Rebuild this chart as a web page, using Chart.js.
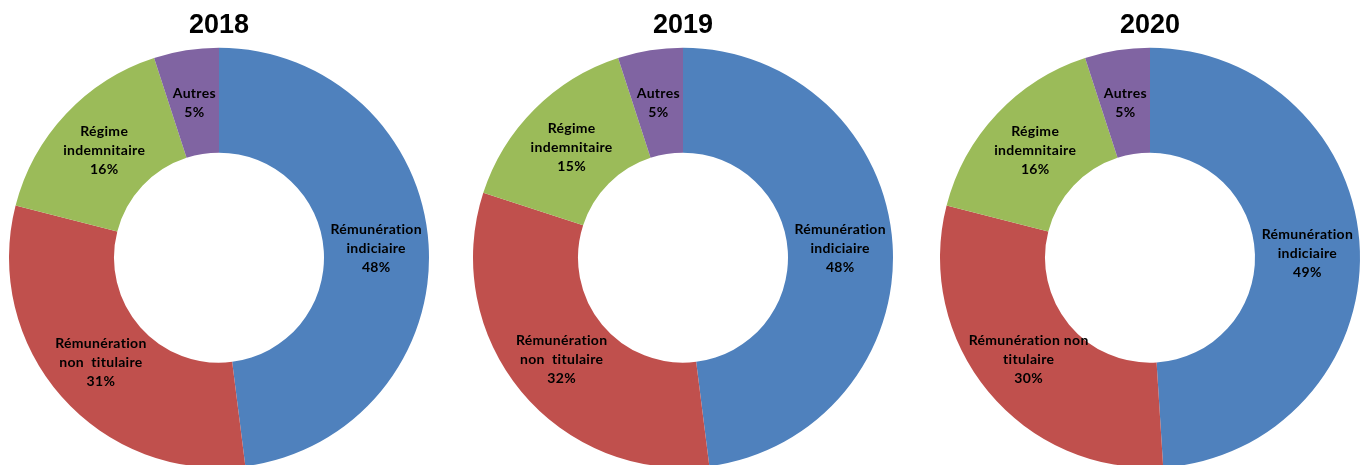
<!DOCTYPE html>
<html>
<head>
<meta charset="utf-8">
<script src="https://cdn.jsdelivr.net/npm/chart.js@4.4.0/dist/chart.umd.min.js"></script>
<style>
  html, body { margin: 0; padding: 0; background: #fff; overflow: hidden; }
  body { width: 1360px; height: 465px; position: relative; }
  .pie { position: absolute; top: 0; width: 440px; height: 474px; }
</style>
</head>
<body>
<div class="pie" style="left:-1.5px"><canvas id="pie2018"></canvas></div>
<div class="pie" style="left:462.5px"><canvas id="pie2019"></canvas></div>
<div class="pie" style="left:929.5px"><canvas id="pie2020"></canvas></div>
<script>
const years = ['2018', '2019', '2020'];
const categories = ['Rémunération indiciaire', 'Rémunération non titulaire', 'Régime indemnitaire', 'Autres'];
const colors = ['#4F81BD', '#C0504D', '#9BBB59', '#8064A2'];

const values2018 = [48, 31, 16, 5];
const values2019 = [48, 32, 15, 5];
const values2020 = [49, 30, 16, 5];

// how each category name wraps inside its slice
const wrap2018 = [['Rémunération', 'indiciaire'], ['Rémunération', 'non  titulaire'], ['Régime', 'indemnitaire'], ['Autres']];
const wrap2019 = [['Rémunération', 'indiciaire'], ['Rémunération', 'non  titulaire'], ['Régime', 'indemnitaire'], ['Autres']];
const wrap2020 = [['Rémunération', 'indiciaire'], ['Rémunération non', 'titulaire'], ['Régime', 'indemnitaire'], ['Autres']];

const valuesByYear = [values2018, values2019, values2020];
const wrapByYear = [wrap2018, wrap2019, wrap2020];

// writes "name / value%" in the middle of each ring segment
const sliceLabels = {
  id: 'sliceLabels',
  afterDatasetsDraw(chart, args, opts) {
    const ctx = chart.ctx;
    const meta = chart.getDatasetMeta(0);
    const data = chart.data.datasets[0].data;
    ctx.save();
    ctx.font = 'bold 14px Lato, "Open Sans", sans-serif';
    ctx.letterSpacing = '0.3px';
    ctx.fillStyle = '#000';
    ctx.textAlign = 'center';
    ctx.textBaseline = 'middle';
    meta.data.forEach((arc, i) => {
      const pos = arc.tooltipPosition();
      const lines = opts.wrap[i].concat([data[i] + '%']);
      const lh = 19;
      const top = pos.y + 1 - (lines.length - 1) * lh / 2;
      lines.forEach((line, j) => ctx.fillText(line, pos.x, top + j * lh));
    });
    ctx.restore();
  }
};

years.forEach((year, k) => {
  new Chart(document.getElementById('pie' + year), {
    type: 'doughnut',
    data: {
      labels: categories,
      datasets: [{
        data: valuesByYear[k],
        backgroundColor: colors,
        borderWidth: 0,
        hoverOffset: 0
      }]
    },
    options: {
      responsive: true,
      maintainAspectRatio: false,
      animation: false,
      radius: 210,
      cutout: '50%',
      rotation: 0,
      layout: { padding: 0 },
      plugins: {
        legend: { display: false },
        tooltip: { enabled: false },
        title: {
          display: true,
          text: year,
          color: '#000',
          font: { family: '"Liberation Sans", Arial, sans-serif', size: 27, weight: 'bold', lineHeight: 1.2 },
          padding: { top: 9, bottom: 0 }
        },
        sliceLabels: { wrap: wrapByYear[k] }
      }
    },
    plugins: [sliceLabels]
  });
});
</script>
</body>
</html>
